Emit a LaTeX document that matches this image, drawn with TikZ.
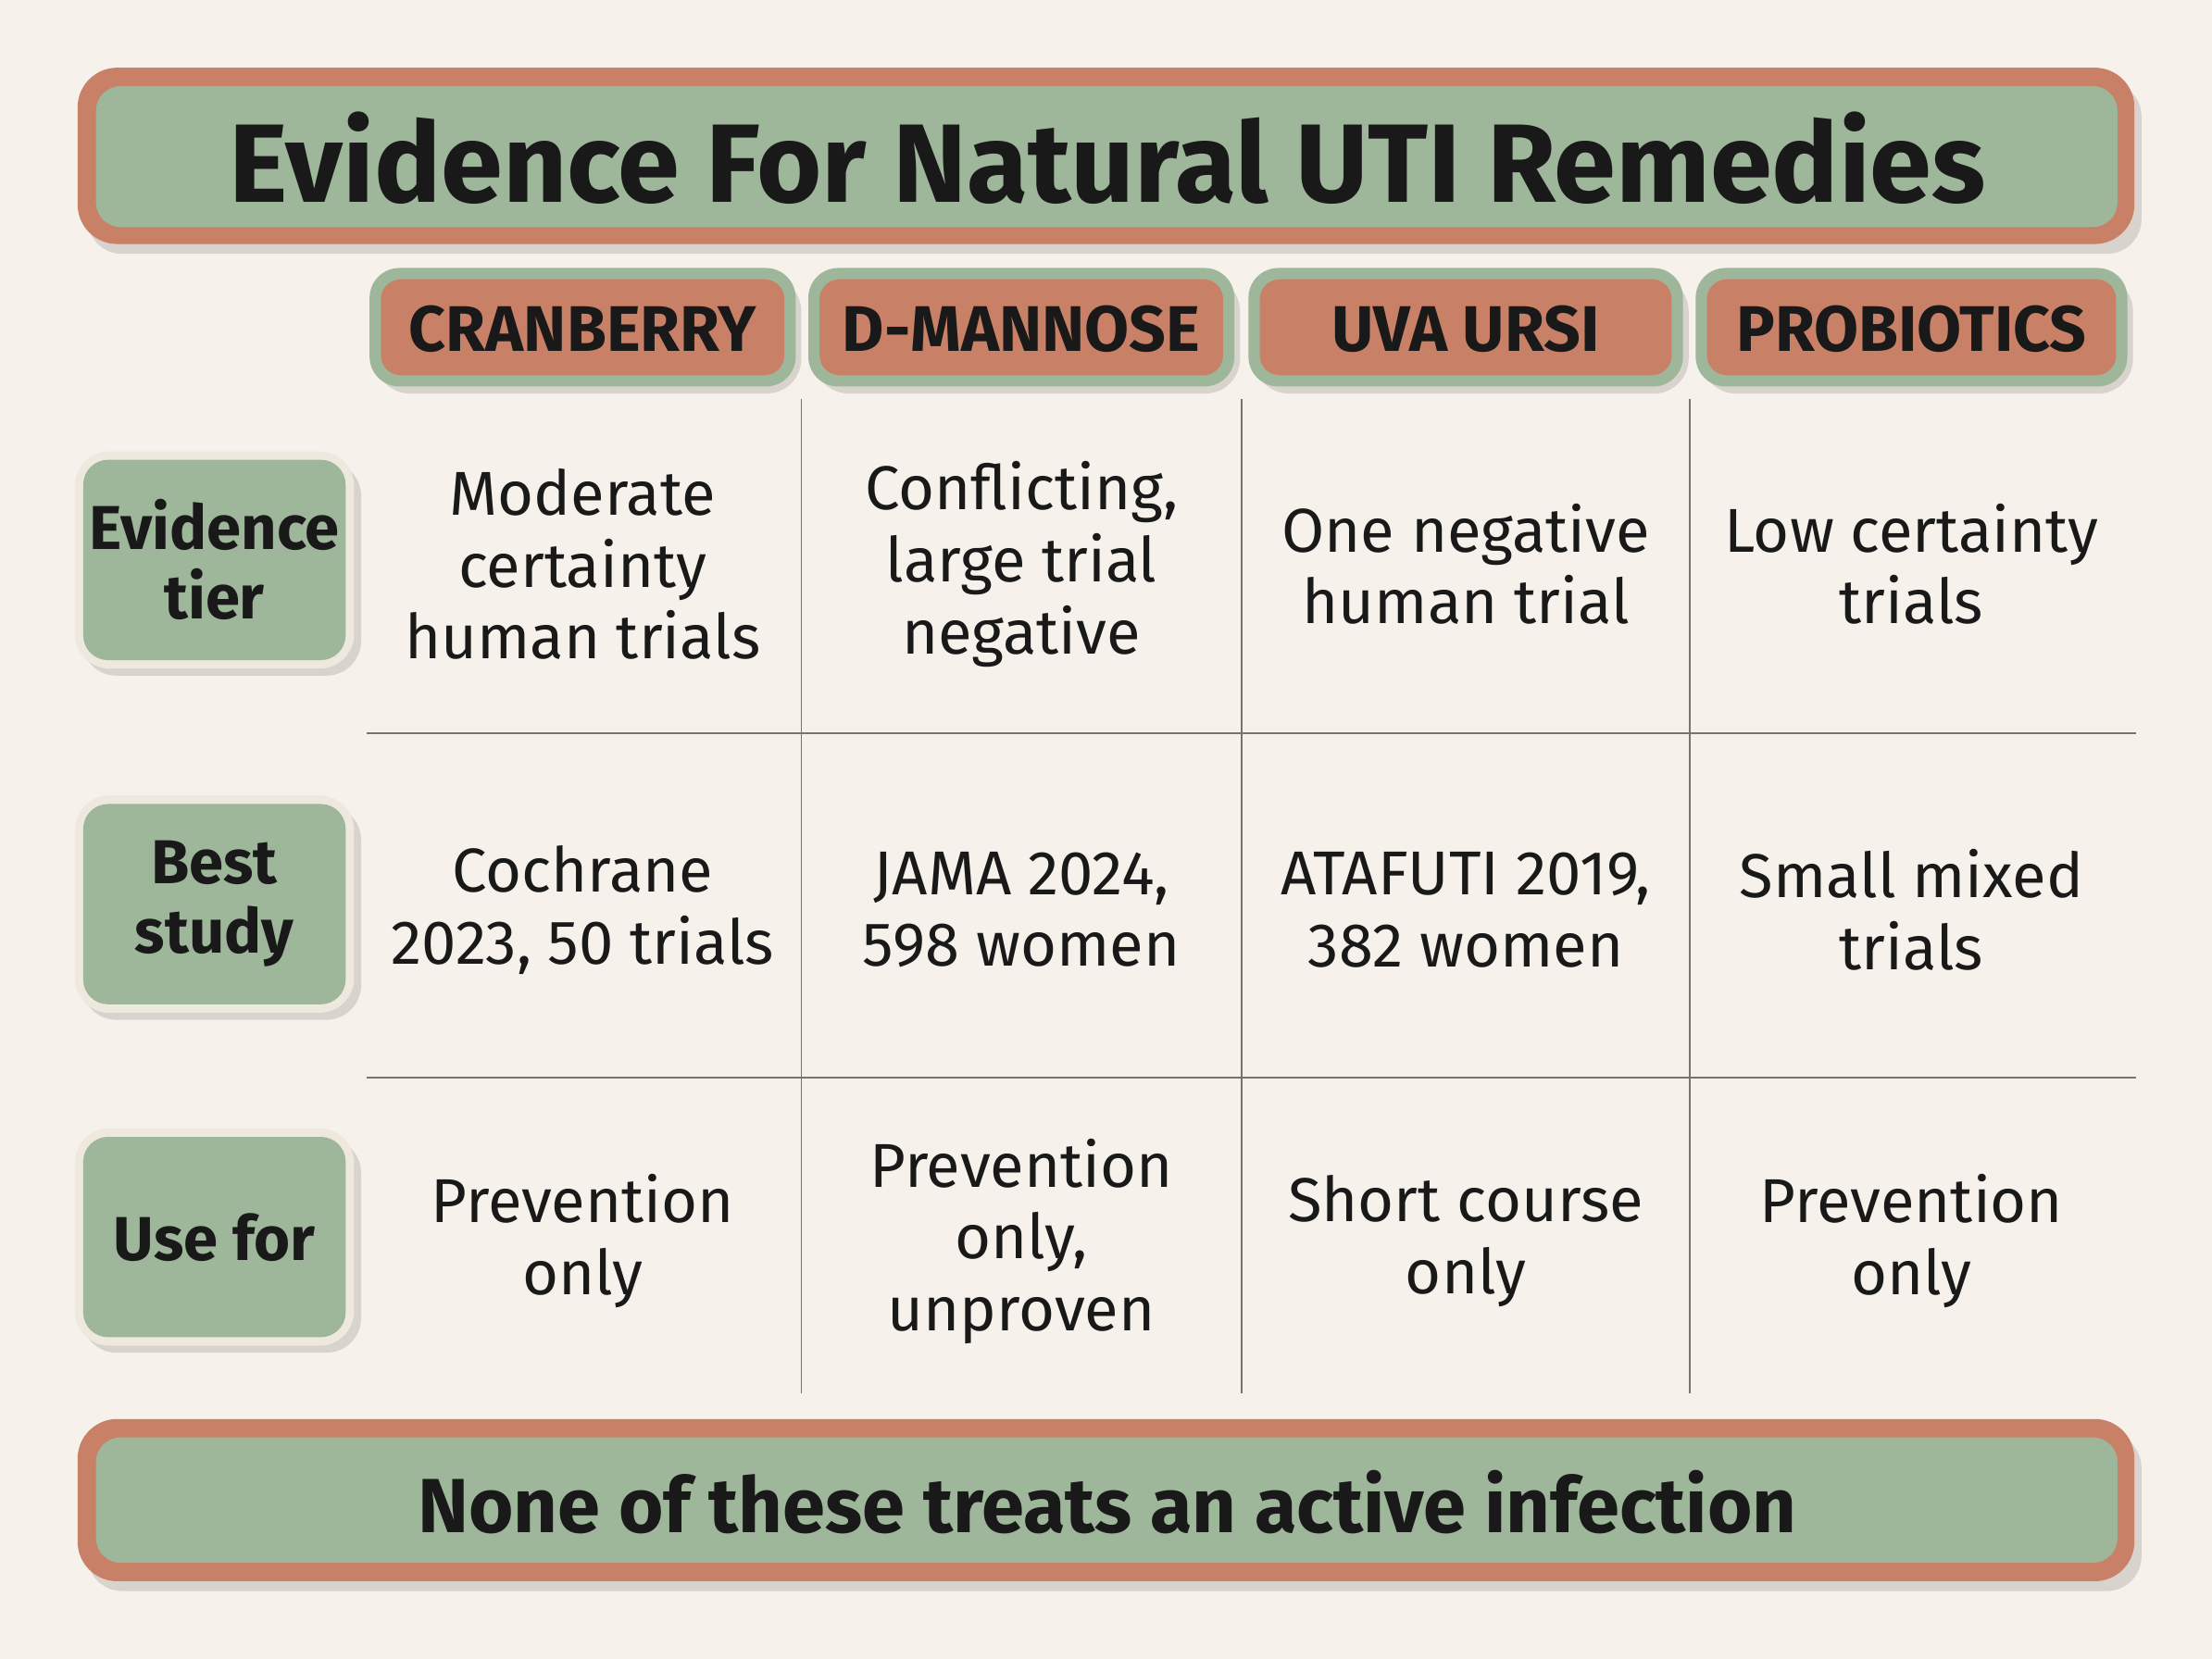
\documentclass[tikz,border=0pt]{standalone}
\usepackage{fontspec}
\setmainfont{Fira Sans}
\definecolor{bg}{RGB}{246,241,234}
\definecolor{terra}{RGB}{200,128,102}
\definecolor{sage}{RGB}{158,182,154}
\definecolor{rim}{RGB}{238,232,222}
\definecolor{ink}{RGB}{25,25,25}
\definecolor{grid}{RGB}{120,115,110}
\tikzset{
  px/.style={x=0.02cm,y=-0.02cm},
  shadow/.style={fill=black,opacity=0.12,rounded corners=14},
  cell/.style={align=center,font=\fontsize{25}{29}\selectfont,text=ink},
  lab/.style={align=center,font=\fontsize{25}{28}\selectfont\bfseries,text=ink},
  hdr/.style={font=\fontsize{26}{30}\selectfont\bfseries,text=ink},
  gl/.style={draw=grid,line width=0.6pt}
}
\begin{document}
\begin{tikzpicture}[px]
\fill[bg] (0,0) rectangle (1568,1176);
\useasboundingbox (0,0) rectangle (1568,1176);
% title
\fill[shadow] (62,58) rectangle (1518,180);
\fill[terra,rounded corners=16] (55,48) rectangle (1513,173);
\fill[sage,rounded corners=10] (68,61) rectangle (1501,161);
\node[font=\fontsize{45}{50}\selectfont\bfseries,text=ink] (title) at (785,112) {Evidence For Natural UTI Remedies};
% headers
\foreach \a/\b/\t/\n in {262/564/CRANBERRY/h1,573/875/D-MANNOSE/h2,885/1193/UVA URSI/h3,1202/1508/PROBIOTICS/h4}{
  \fill[shadow] (\a+4,196) rectangle (\b+4,279);
  \fill[sage,rounded corners=12] (\a,190) rectangle (\b,274);
  \fill[terra,rounded corners=8] (\a+8,198) rectangle (\b-8,266);
  \node[hdr] (\n) at ({(\a+\b)/2},233) {\t};
}
% row labels
\foreach \y/\t/\n in {397/{Evidence\\tier}/r1,641/{Best\\study}/r2,877/{Use for}/r3}{
  \fill[shadow] (58,\y-70) rectangle (256,\y+82);
  \fill[rim,rounded corners=14] (53,\y-77) rectangle (251,\y+77);
  \fill[sage,rounded corners=10] (59,\y-71) rectangle (245,\y+71);
  \node[lab] (\n) at (152,\y) {\t};
}
% grid
\foreach \x in {568,880,1198} \draw[gl] (\x,283) -- (\x,988);
\foreach \y in {520,764} \draw[gl] (260,\y) -- (1514,\y);
% cells
\node[cell] (c11) at (413,400) {Moderate\\certainty\\human trials};
\node[cell] (c12) at (724,400) {Conflicting,\\large trial\\negative};
\node[cell] (c13) at (1039,400) {One negative\\human trial};
\node[cell] (c14) at (1355,400) {Low certainty\\trials};
\node[cell] (c21) at (413,645) {Cochrane\\2023, 50 trials};
\node[cell] (c22) at (724,645) {JAMA 2024,\\598 women};
\node[cell] (c23) at (1039,645) {ATAFUTI 2019,\\382 women};
\node[cell] (c24) at (1355,645) {Small mixed\\trials};
\node[cell] (c31) at (413,880) {Prevention\\only};
\node[cell] (c32) at (724,880) {Prevention\\only,\\unproven};
\node[cell] (c33) at (1039,880) {Short course\\only};
\node[cell] (c34) at (1355,880) {Prevention\\only};
% footer
\fill[shadow] (62,1016) rectangle (1518,1128);
\fill[terra,rounded corners=16] (55,1006) rectangle (1513,1121);
\fill[sage,rounded corners=10] (68,1019) rectangle (1501,1108);
\node[font=\fontsize{31}{35}\selectfont\bfseries,text=ink] (foot) at (785,1065) {None of these treats an active infection};
\end{tikzpicture}
\end{document}
